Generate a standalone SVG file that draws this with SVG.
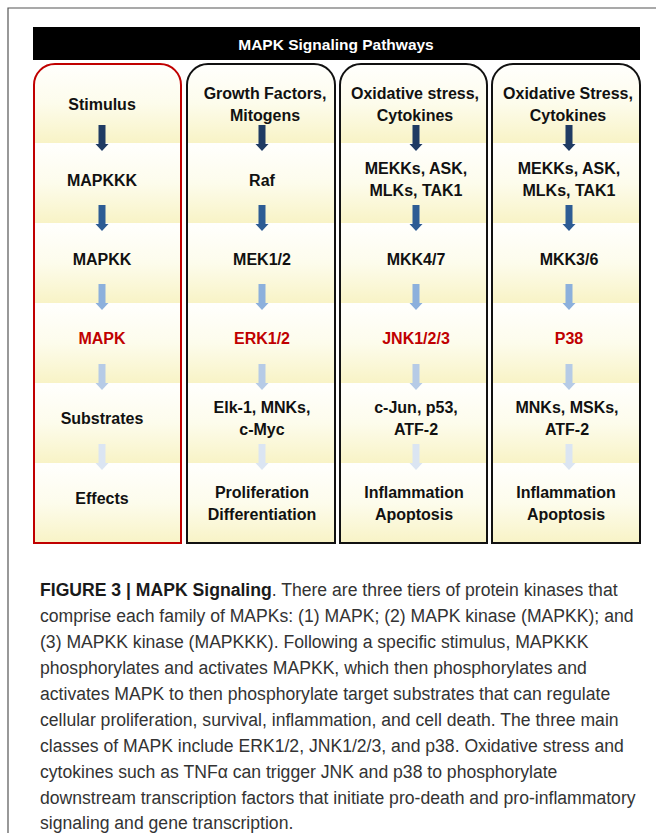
<svg xmlns="http://www.w3.org/2000/svg" xmlns:xlink="http://www.w3.org/1999/xlink" width="656" height="833" viewBox="0 0 656 833">
<style>
.t{font-family:"Liberation Sans",Arial,sans-serif;font-weight:bold;font-size:16px;text-anchor:middle;fill:#111}
.red{fill:#c00000}
.hd{font-family:"Liberation Sans",Arial,sans-serif;font-weight:bold;font-size:15.5px;text-anchor:middle;fill:#fff}
.cap{font-family:"Liberation Sans",Arial,sans-serif;font-size:17.6px;fill:#333}
.capb{font-weight:bold;fill:#1a1a1a}
.col{fill:url(#bands);stroke:#111;stroke-width:2}
.colr{fill:url(#bands);stroke:#c00000;stroke-width:2}
</style>
<defs>
<linearGradient id="bg" x1="0" y1="0" x2="0" y2="1">
<stop offset="0" stop-color="#fffffd"/>
<stop offset="0.5" stop-color="#fdfcec"/>
<stop offset="1" stop-color="#f8f3c6"/>
</linearGradient>
<pattern id="bands" patternUnits="userSpaceOnUse" x="0" y="63" width="656" height="80">
<rect x="0" y="0" width="656" height="80" fill="url(#bg)"/>
</pattern>
<path id="arr" d="M-3.5,0 H3.5 V19 H6.5 L0,26 L-6.5,19 H-3.5 Z"/>
</defs>
<rect width="656" height="833" fill="#fff"/>
<path d="M8,833 V8 H656" fill="none" stroke="#555" stroke-width="1.2"/>

<g id="header">
<rect x="33" y="27" width="607" height="33" fill="#000"/>
<text class="hd" x="336" y="49.5">MAPK Signaling Pathways</text>
</g>

<g id="col-general">
<path class="colr" d="M34,543 V85 A21,21 0 0 1 55,64 H160 A21,21 0 0 1 181,85 V543 Z"/>
<g id="n-stimulus"><text class="t" x="102" y="109.5">Stimulus</text></g>
<g id="n-mapkkk"><text class="t" x="102" y="185.5">MAPKKK</text></g>
<g id="n-mapkk"><text class="t" x="102" y="264.5">MAPKK</text></g>
<g id="n-mapk"><text class="t red" x="102" y="343.5">MAPK</text></g>
<g id="n-substrates"><text class="t" x="102" y="423.5">Substrates</text></g>
<g id="n-effects"><text class="t" x="102" y="503.5">Effects</text></g>
</g>

<g id="col-erk">
<path class="col" d="M187,543 V85 A21,21 0 0 1 208,64 H314 A21,21 0 0 1 335,85 V543 Z"/>
<g id="n-growth"><text class="t" x="265" y="98.5">Growth Factors,</text><text class="t" x="265" y="120.5">Mitogens</text></g>
<g id="n-raf"><text class="t" x="262" y="185.5">Raf</text></g>
<g id="n-mek"><text class="t" x="262" y="264.5">MEK1/2</text></g>
<g id="n-erk"><text class="t red" x="262" y="343.5">ERK1/2</text></g>
<g id="n-elk"><text class="t" x="262" y="412.5">Elk-1, MNKs,</text><text class="t" x="262" y="434.5">c-Myc</text></g>
<g id="n-prolif"><text class="t" x="262" y="497.5">Proliferation</text><text class="t" x="262" y="519.5">Differentiation</text></g>
</g>

<g id="col-jnk">
<path class="col" d="M340,543 V85 A21,21 0 0 1 361,64 H466 A21,21 0 0 1 487,85 V543 Z"/>
<g id="n-ox1"><text class="t" x="415" y="98.5">Oxidative stress,</text><text class="t" x="415" y="120.5">Cytokines</text></g>
<g id="n-mekks1"><text class="t" x="416" y="173.5">MEKKs, ASK,</text><text class="t" x="416" y="195.5">MLKs, TAK1</text></g>
<g id="n-mkk47"><text class="t" x="416" y="264.5">MKK4/7</text></g>
<g id="n-jnk"><text class="t red" x="416" y="343.5">JNK1/2/3</text></g>
<g id="n-cjun"><text class="t" x="416" y="412.5">c-Jun, p53,</text><text class="t" x="416" y="434.5">ATF-2</text></g>
<g id="n-infl1"><text class="t" x="414" y="497.5">Inflammation</text><text class="t" x="414" y="519.5">Apoptosis</text></g>
</g>

<g id="col-p38">
<path class="col" d="M492,543 V85 A21,21 0 0 1 513,64 H619 A21,21 0 0 1 640,85 V543 Z"/>
<g id="n-ox2"><text class="t" x="568" y="98.5">Oxidative Stress,</text><text class="t" x="568" y="120.5">Cytokines</text></g>
<g id="n-mekks2"><text class="t" x="569" y="173.5">MEKKs, ASK,</text><text class="t" x="569" y="195.5">MLKs, TAK1</text></g>
<g id="n-mkk36"><text class="t" x="569" y="264.5">MKK3/6</text></g>
<g id="n-p38"><text class="t red" x="569" y="343.5">P38</text></g>
<g id="n-mnks"><text class="t" x="567" y="412.5">MNKs, MSKs,</text><text class="t" x="567" y="434.5">ATF-2</text></g>
<g id="n-infl2"><text class="t" x="566" y="497.5">Inflammation</text><text class="t" x="566" y="519.5">Apoptosis</text></g>
</g>

<g id="connectors">
<use href="#arr" x="102" y="125" fill="#1f3b63"/>
<use href="#arr" x="102" y="205" fill="#2d5c94"/>
<use href="#arr" x="102" y="284" fill="#8cb0dc"/>
<use href="#arr" x="102" y="364" fill="#b6cbe6"/>
<use href="#arr" x="102" y="444" fill="#dbe5f2"/>
<use href="#arr" x="262" y="125" fill="#1f3b63"/>
<use href="#arr" x="262" y="205" fill="#2d5c94"/>
<use href="#arr" x="262" y="284" fill="#8cb0dc"/>
<use href="#arr" x="262" y="364" fill="#b6cbe6"/>
<use href="#arr" x="262" y="444" fill="#dbe5f2"/>
<use href="#arr" x="416" y="125" fill="#1f3b63"/>
<use href="#arr" x="416" y="205" fill="#2d5c94"/>
<use href="#arr" x="416" y="284" fill="#8cb0dc"/>
<use href="#arr" x="416" y="364" fill="#b6cbe6"/>
<use href="#arr" x="416" y="444" fill="#dbe5f2"/>
<use href="#arr" x="569" y="125" fill="#1f3b63"/>
<use href="#arr" x="569" y="205" fill="#2d5c94"/>
<use href="#arr" x="569" y="284" fill="#8cb0dc"/>
<use href="#arr" x="569" y="364" fill="#b6cbe6"/>
<use href="#arr" x="569" y="444" fill="#dbe5f2"/>
</g>

<g id="caption" class="cap">
<text x="40" y="596"><tspan class="capb">FIGURE 3 | MAPK Signaling</tspan>. There are three tiers of protein kinases that</text>
<text x="40" y="622">comprise each family of MAPKs: (1) MAPK; (2) MAPK kinase (MAPKK); and</text>
<text x="40" y="648">(3) MAPKK kinase (MAPKKK). Following a specific stimulus, MAPKKK</text>
<text x="40" y="674">phosphorylates and activates MAPKK, which then phosphorylates and</text>
<text x="40" y="700">activates MAPK to then phosphorylate target substrates that can regulate</text>
<text x="40" y="726">cellular proliferation, survival, inflammation, and cell death. The three main</text>
<text x="40" y="752">classes of MAPK include ERK1/2, JNK1/2/3, and p38. Oxidative stress and</text>
<text x="40" y="778">cytokines such as TNFα can trigger JNK and p38 to phosphorylate</text>
<text x="40" y="804">downstream transcription factors that initiate pro-death and pro-inflammatory</text>
<text x="40" y="829">signaling and gene transcription.</text>
</g>
</svg>
